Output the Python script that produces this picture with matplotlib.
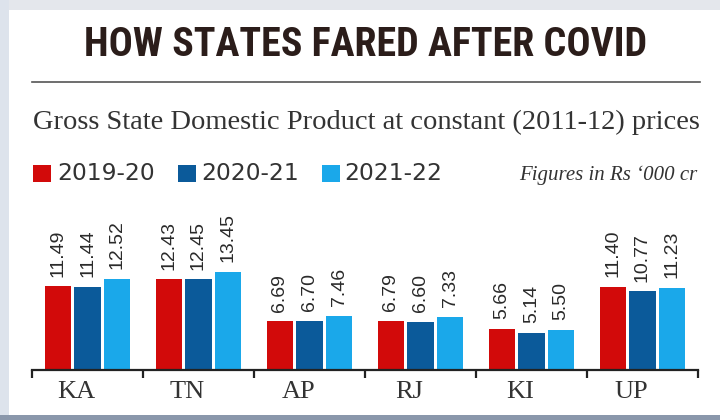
import matplotlib
matplotlib.use("Agg")
import matplotlib.pyplot as plt
from matplotlib.patches import Rectangle
from matplotlib.lines import Line2D
from matplotlib import font_manager
import numpy as np

states = ["KA", "TN", "AP", "RJ", "KI", "UP"]
years = ["2019-20", "2020-21", "2021-22"]
v_2019_20 = [11.49, 12.43, 6.69, 6.79, 5.66, 11.40]
v_2020_21 = [11.44, 12.45, 6.70, 6.60, 5.14, 10.77]
v_2021_22 = [12.52, 13.45, 7.46, 7.33, 5.50, 11.23]
value_labels_2019_20 = ["11.49", "12.43", "6.69", "6.79", "5.66", "11.40"]
value_labels_2020_21 = ["11.44", "12.45", "6.70", "6.60", "5.14", "10.77"]
value_labels_2021_22 = ["12.52", "13.45", "7.46", "7.33", "5.50", "11.23"]

colors = ["#d20a0a", "#0b5a9a", "#1aa8ea"]
W, H = 720, 420

available = {f.name for f in font_manager.fontManager.ttflist}
title_family = "DejaVu Sans"
for cand in ["Liberation Sans Narrow", "Roboto Condensed", "Open Sans Condensed",
             "DejaVu Sans Condensed", "Roboto"]:
    if cand in available:
        title_family = cand
        break

fig = plt.figure(figsize=(7.2, 4.2), dpi=100)
fig.patch.set_facecolor("white")

def px(x, y):
    return x / W, 1 - y / H

# frame strips
fig.patches.append(Rectangle((0, 1 - 10 / H), 1, 10 / H, transform=fig.transFigure,
                             facecolor="#e4e7ec", edgecolor="none", zorder=0))
fig.patches.append(Rectangle((0, 0), 9 / W, 1, transform=fig.transFigure,
                             facecolor="#dde3ec", edgecolor="none", zorder=0))
fig.patches.append(Rectangle((0, 0), 1, 5 / H, transform=fig.transFigure,
                             facecolor="#8a97ab", edgecolor="none", zorder=0))

# title (fit to the reference width)
title = fig.text(*px(366, 45), "HOW STATES FARED AFTER COVID", ha="center", va="center",
                 fontsize=28, fontweight="bold", family=title_family, color="#2b1d1a")
fig.canvas.draw()
r = fig.canvas.get_renderer()
w = title.get_window_extent(r).width
title.set_fontsize(28 * 563 / w)

fig.lines.append(Line2D([32 / W, 700 / W], [1 - 82 / H] * 2, transform=fig.transFigure,
                        color="#555555", linewidth=1.2))

# subtitle
fig.text(*px(33, 129), "Gross State Domestic Product at constant (2011-12) prices",
         ha="left", va="baseline", fontsize=20.5, family="Liberation Serif", color="#333333")

# legend
sq_x = [33, 178, 322]
tx_x = [57, 201, 344]
for i, yr in enumerate(years):
    fig.patches.append(Rectangle(px(sq_x[i], 182), 18 / W, 17 / H, transform=fig.transFigure,
                                 facecolor=colors[i], edgecolor="none"))
    fig.text(*px(tx_x[i], 173.5), yr, ha="left", va="center", fontsize=16.8,
             family="DejaVu Sans", color="#333333")
fig.text(*px(697, 175), "Figures in Rs \u2018000 cr", ha="right", va="center",
         fontsize=15, family="Liberation Serif", style="italic", color="#333333")

# axes
ax = fig.add_axes([32 / W, 50 / H, 666 / W, 180 / H])
ax.set_xlim(-0.5, 5.5)
ax.set_ylim(0, 180 / 7.29)
x = np.arange(len(states))
series = [v_2019_20, v_2020_21, v_2021_22]
labels = [value_labels_2019_20, value_labels_2020_21, value_labels_2021_22]
offsets = [-0.266, 0.0, 0.266]
for i in range(3):
    bars = ax.bar(x + offsets[i], series[i], width=0.235, color=colors[i], zorder=2)
    for b, lab in zip(bars, labels[i]):
        ax.annotate(lab, (b.get_x() + b.get_width() / 2, b.get_height()),
                    xytext=(0, 7), textcoords="offset points", rotation=90,
                    ha="center", va="bottom", fontsize=14, family="Liberation Sans",
                    color="#2a2a2a")

for s in ["top", "right", "left"]:
    ax.spines[s].set_visible(False)
ax.spines["bottom"].set_linewidth(1.6)
ax.spines["bottom"].set_color("#222222")
ax.set_yticks([])
ax.set_xticks(np.arange(-0.5, 6.0, 1.0))
ax.set_xticklabels([])
ax.tick_params(axis="x", direction="out", length=6, width=1.6, color="#222222")
ax.set_facecolor("none")
for xi, st in zip(x, states):
    ax.text(xi - 0.1, -22 / 7.29, st, ha="center", va="center", fontsize=19,
            family="Liberation Serif", color="#333333")

fig.savefig("out.png", dpi=100, facecolor=fig.get_facecolor())
